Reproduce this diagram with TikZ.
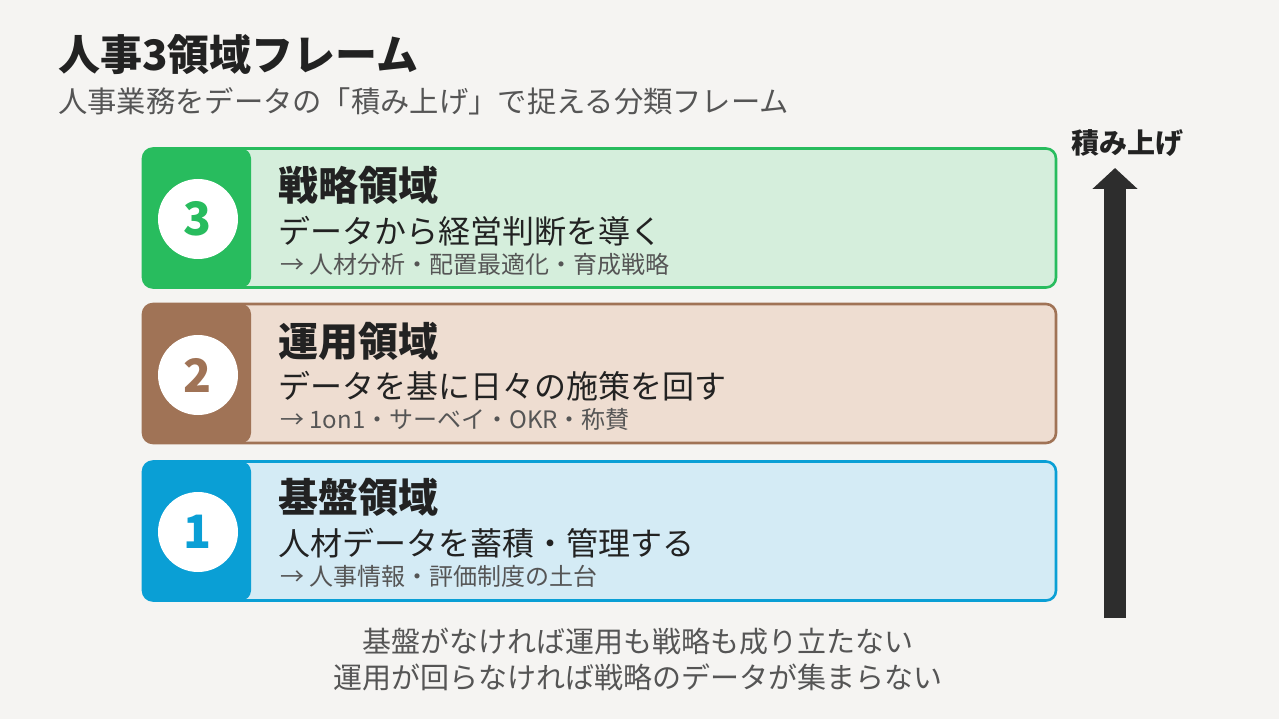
\documentclass[tikz,border=0pt]{standalone}
\usepackage{fontspec}
\setmainfont{Noto Sans CJK JP}
\usetikzlibrary{arrows.meta}

\definecolor{bgcol}{HTML}{F5F4F2}
\definecolor{inkcol}{HTML}{222222}
\definecolor{greycol}{HTML}{555555}
\definecolor{stratcol}{HTML}{28BC5E}
\definecolor{stratfill}{HTML}{D5EEDC}
\definecolor{opercol}{HTML}{A07356}
\definecolor{operfill}{HTML}{EEDDD1}
\definecolor{basecol}{HTML}{0A9FD5}
\definecolor{basefill}{HTML}{D4EBF5}

\newcommand{\fsz}[1]{\fontsize{#1}{#1}\selectfont}

\begin{document}
\begin{tikzpicture}[x=1pt,y=-1pt,>=Triangle,
    layer/.style 2 args={draw=#1, fill=#2, line width=2.6pt, rounded corners=10pt,
        minimum width=913pt, minimum height=139pt, inner sep=0pt,
        path picture={\fill[#1] (path picture bounding box.north west) rectangle
            ([xshift=108pt]path picture bounding box.south west);}},
    badge/.style={circle, fill=white, minimum size=80pt, inner sep=0pt,
        text=#1, font=\fsz{46}\bfseries},
    head/.style={anchor=west, inner sep=0pt, text=inkcol, font=\fsz{40}\bfseries},
    lead/.style={anchor=west, inner sep=0pt, text=inkcol, font=\fsz{32}},
    note/.style={anchor=west, inner sep=0pt, text=greycol, font=\fsz{24}},
    remark/.style={inner sep=0pt, text=greycol, font=\fsz{29}}]

    % background and page frame
    \fill[bgcol] (0,0) rectangle (1279,719);

    % title
    \node[anchor=west, inner sep=0pt, text=inkcol, font=\fsz{42}\bfseries] (title) at (58,55) {人事3領域フレーム};
    \node[anchor=west, inner sep=0pt, text=greycol, font=\fsz{29.3}] (subtitle) at (58,101) {人事業務をデータの「積み上げ」で捉える分類フレーム};

    % layer 3
    \node[layer={stratcol}{stratfill}] (l3) at (599.5,218) {};
    \node[badge=stratcol] (n3) at (198,219) {3};
    \node[head] (h3) at (278,185) {戦略領域};
    \node[lead] (d3) at (278,231) {データから経営判断を導く};
    \node[note] (e3) at (280,264) {→ 人材分析・配置最適化・育成戦略};

    % layer 2
    \node[layer={opercol}{operfill}] (l2) at (599.5,373.5) {};
    \node[badge=opercol] (n2) at (198,375) {2};
    \node[head] (h2) at (278,341) {運用領域};
    \node[lead] (d2) at (278,386) {データを基に日々の施策を回す};
    \node[note] (e2) at (280,419) {→ 1on1・サーベイ・OKR・称賛};

    % layer 1
    \node[layer={basecol}{basefill}] (l1) at (599.5,531) {};
    \node[badge=basecol] (n1) at (198,532) {1};
    \node[head] (h1) at (278,497) {基盤領域};
    \node[lead] (d1) at (278,543) {人材データを蓄積・管理する};
    \node[note] (e1) at (280,576) {→ 人事情報・評価制度の土台};

    % stacking arrow
    \node[inner sep=0pt, text=inkcol, font=\fsz{28}\bfseries] (stack) at (1127,143) {積み上げ};
    \coordinate (arrowfoot) at (1115,618);
    \coordinate (arrowtip) at (1115,168);
    \draw[-{Triangle[width=44pt,length=21pt]}, line width=22pt, draw=inkcol!95] (arrowfoot) -- (arrowtip);

    % closing remark
    \node[remark] (r1) at (638,641) {基盤がなければ運用も戦略も成り立たない};
    \node[remark] (r2) at (638,677) {運用が回らなければ戦略のデータが集まらない};
\end{tikzpicture}
\end{document}
